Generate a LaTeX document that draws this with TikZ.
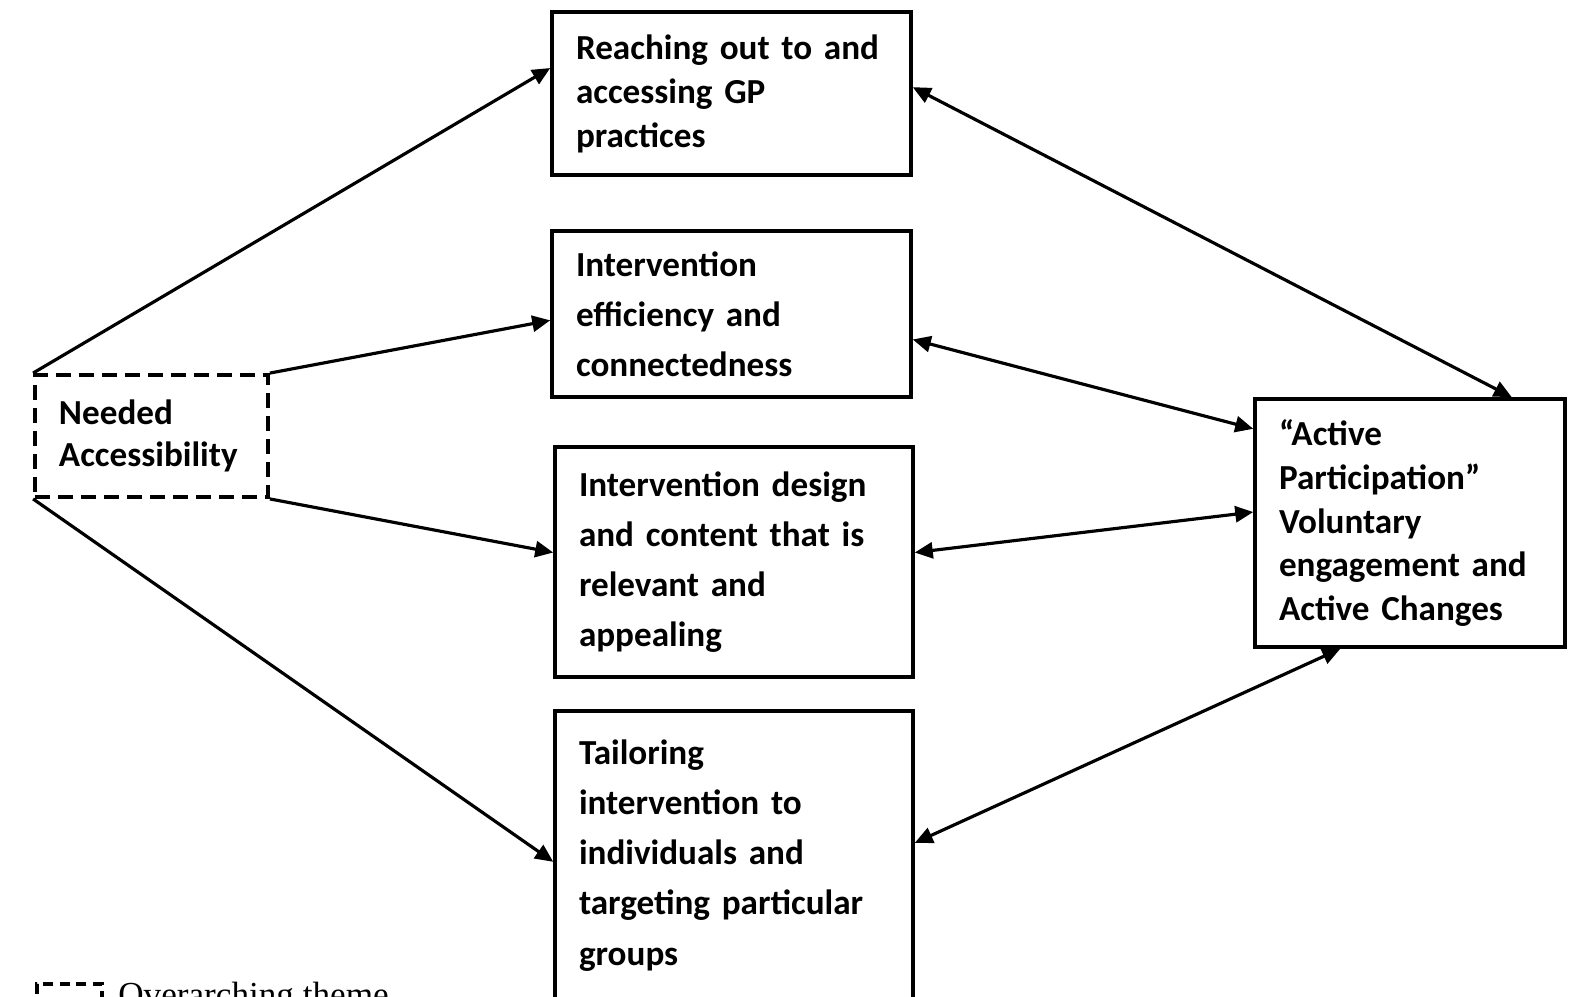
\documentclass[tikz,border=0pt]{standalone}
\usepackage{fontspec}
\setmainfont{Carlito}
\newfontfamily\legendfont{Liberation Serif}
\usetikzlibrary{arrows.meta}

\tikzset{
    theme/.style={draw, line width=2pt, align=left, inner xsep=4.8mm, inner ysep=0pt,
        font=\bfseries\fontsize{20}{#1}\selectfont},
    theme/.default=25,
    overarch/.style={theme=#1, line width=2.2pt, dash pattern=on 3mm off 1.6mm},
    overarch/.default=24,
    link/.style={line width=1.8pt, -{Triangle[length=3.6mm,width=3.2mm]}},
    twoway/.style={line width=1.8pt, {Triangle[length=3.6mm,width=3.2mm]}-{Triangle[length=3.6mm,width=3.2mm]}},
}

\begin{document}
\begin{tikzpicture}[x=0.2mm,y=-0.2mm]
    \useasboundingbox (0,0) rectangle (1572,997);

    % themes in the middle column
    \node[theme, text width=62.2mm, minimum height=32.6mm] (A) at (731.5,93.5)
        {Reaching out to and\\accessing GP\\practices};
    \node[theme=28.5, text width=62.2mm, minimum height=33.2mm] (B) at (731.5,314)
        {Intervention\\efficiency and\\connectedness};
    \node[theme=28.5, text width=62.0mm, minimum height=46mm] (C) at (734,562)
        {Intervention design\\and content that is\\relevant and\\appealing};
    \node[theme=28.5, text width=62.0mm, minimum height=57.8mm] (D) at (734,855.5)
        {Tailoring\\intervention to\\individuals and\\targeting particular\\groups};

    % overarching theme and outcome
    \node[overarch, text width=37mm, minimum height=24.4mm] (N) at (151.5,436)
        {Needed\\Accessibility};
    \node[theme, text width=52.4mm, minimum height=49.6mm] (P) at (1410,523)
        {“Active\\Participation”\\Voluntary\\engagement and\\Active Changes};

    \draw[link] (N.north west) -- (A.172);
    \draw[link] (N.north east) -- (B.182);
    \draw[link] (N.south east) -- (C.177);
    \draw[link] (N.south west) -- (D.182);

    \draw[twoway] (A.2) -- (P.51);
    \draw[twoway] (B.352) -- (P.149);
    \draw[twoway] (C.3) -- (P.176);
    \draw[twoway] (D.4) -- (P.241);

    % key
    \node[draw, line width=2.2pt, dash pattern=on 2mm off 1.3mm, minimum width=13mm,
        minimum height=7mm, anchor=north west] (K) at (35,982) {};
    \node[anchor=base west, inner sep=0pt, font=\legendfont\fontsize{20}{24}\selectfont]
        (Klabel) at (118,1006) {Overarching theme};
\end{tikzpicture}
\end{document}
